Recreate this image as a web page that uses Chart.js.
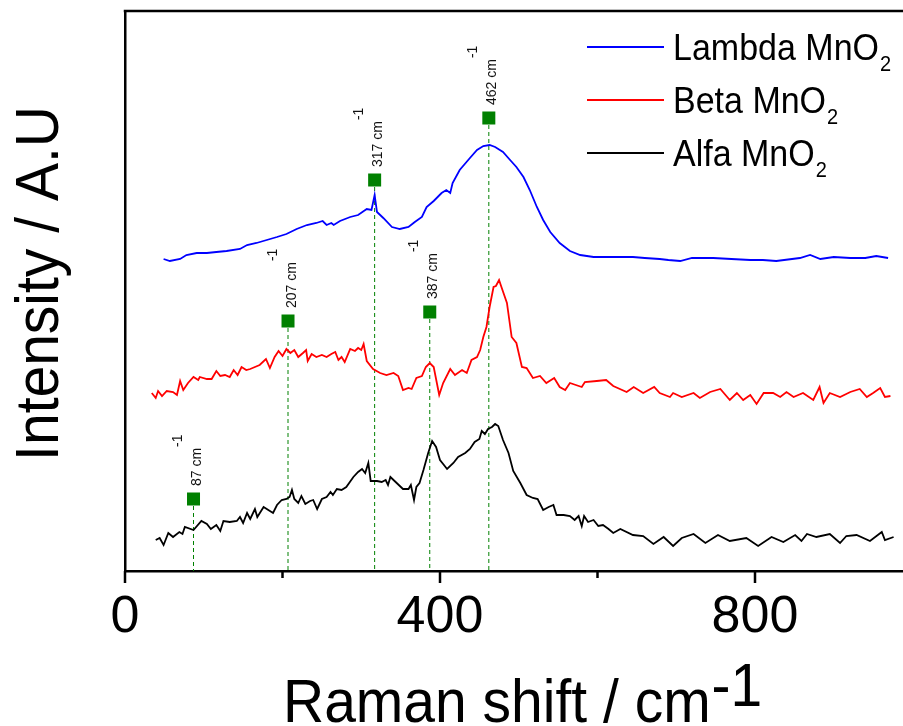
<!DOCTYPE html>
<html>
<head>
<meta charset="utf-8">
<script src="https://cdn.jsdelivr.net/npm/chart.js@4.4.1/dist/chart.umd.min.js"></script>
<style>
  html, body { margin: 0; padding: 0; background: #fff; overflow: hidden; width: 903px; height: 726px; }
  canvas { display: block; }
</style>
</head>
<body>
<canvas id="raman" width="930" height="726"></canvas>
<script>
// Raman spectra of three MnO2 polymorphs (shift in cm-1, intensity in arbitrary units, stacked)
const lambdaShift = [49, 57, 70, 78, 91, 104, 116, 129, 146, 155, 167, 180, 193, 205, 218, 231, 243, 251, 256, 262, 265, 273, 286, 296, 307, 313, 317, 320, 328, 339, 349, 360, 368, 377, 383, 392, 402, 408, 413, 416, 425, 438, 447, 455, 463, 470, 480, 489, 497, 506, 514, 523, 531, 540, 552, 565, 578, 595, 612, 629, 645, 660, 679, 690, 705, 720, 747, 770, 794, 810, 827, 857, 870, 883, 900, 921, 940, 954, 969];
const lambdaIntensity = [312, 310, 312, 316, 318, 318, 319, 320, 322, 326, 328, 331, 334, 337, 342, 346, 348, 350, 346, 348, 346, 350, 354, 356, 362, 361, 376, 359, 353, 344, 342, 344, 349, 354, 364, 370, 378, 381, 378, 388, 401, 413, 421, 425, 426, 424, 419, 411, 404, 394, 381, 364, 351, 339, 328, 320, 316, 314, 314, 314, 314, 313, 312, 311, 310, 313, 313, 312, 311, 311, 310, 313, 316, 312, 314, 313, 313, 315, 313];

const betaShift = [34, 39, 42, 47, 53, 61, 66, 70, 74, 80, 87, 93, 95, 104, 110, 116, 121, 127, 133, 138, 143, 148, 154, 159, 165, 171, 179, 184, 190, 195, 200, 205, 210, 215, 220, 226, 230, 232, 237, 243, 250, 256, 262, 267, 271, 275, 279, 286, 292, 296, 300, 303, 307, 315, 324, 332, 341, 347, 353, 360, 364, 370, 377, 382, 387, 392, 399, 404, 413, 419, 428, 434, 440, 447, 451, 455, 459, 463, 468, 471, 475, 478, 485, 491, 497, 504, 510, 518, 527, 535, 545, 552, 559, 565, 580, 584, 599, 611, 620, 637, 646, 658, 672, 679, 692, 696, 707, 722, 730, 743, 756, 768, 777, 785, 794, 802, 811, 823, 832, 840, 849, 861, 874, 882, 887, 895, 908, 921, 933, 942, 950, 959, 965, 972];
const betaIntensity = [178, 173, 180, 175, 180, 179, 176, 190, 181, 188, 194, 191, 194, 192, 192, 200, 195, 196, 194, 201, 196, 204, 201, 202, 204, 206, 212, 203, 214, 220, 215, 222, 218, 221, 214, 218, 221, 210, 217, 214, 216, 214, 217, 219, 211, 214, 209, 222, 220, 223, 221, 227, 210, 202, 198, 196, 198, 195, 181, 183, 182, 193, 195, 204, 208, 204, 176, 188, 202, 196, 201, 198, 211, 214, 221, 234, 244, 264, 284, 285, 291, 284, 268, 234, 228, 204, 203, 193, 195, 188, 193, 184, 181, 188, 184, 189, 190, 191, 185, 179, 184, 178, 184, 178, 174, 178, 174, 178, 173, 179, 182, 171, 178, 171, 176, 167, 178, 178, 174, 179, 174, 178, 171, 184, 168, 178, 174, 179, 182, 174, 178, 183, 174, 175];

const alfaShift = [39, 44, 49, 55, 61, 69, 73, 76, 87, 97, 104, 109, 116, 121, 125, 133, 142, 146, 150, 155, 159, 165, 168, 176, 182, 188, 193, 199, 205, 209, 212, 215, 220, 224, 229, 235, 239, 244, 250, 256, 261, 264, 269, 275, 281, 290, 296, 301, 305, 309, 312, 320, 326, 331, 334, 337, 345, 353, 360, 363, 367, 370, 374, 379, 385, 390, 395, 400, 405, 409, 417, 423, 432, 438, 444, 450, 453, 457, 461, 466, 470, 474, 480, 487, 493, 502, 510, 518, 524, 531, 538, 544, 548, 557, 565, 571, 576, 580, 583, 588, 595, 601, 607, 614, 620, 629, 645, 658, 671, 684, 696, 707, 722, 737, 753, 768, 789, 804, 821, 836, 851, 859, 866, 878, 895, 908, 916, 929, 946, 961, 965, 976];
const alfaIntensity = [31, 33, 26, 38, 34, 39, 37, 44, 41, 50, 47, 42, 46, 40, 50, 49, 50, 54, 48, 58, 52, 62, 54, 64, 61, 58, 66, 71, 72, 74, 81, 72, 68, 75, 67, 70, 71, 62, 72, 74, 79, 76, 82, 81, 84, 94, 99, 102, 98, 108, 90, 90, 89, 91, 86, 94, 88, 82, 82, 86, 71, 84, 88, 101, 118, 130, 124, 111, 106, 102, 108, 114, 118, 122, 129, 132, 140, 137, 142, 144, 147, 145, 131, 118, 100, 88, 76, 73, 72, 61, 64, 66, 56, 56, 55, 51, 55, 45, 55, 49, 51, 45, 46, 42, 38, 42, 36, 35, 27, 34, 25, 33, 37, 28, 36, 30, 33, 25, 34, 29, 36, 30, 37, 34, 37, 28, 35, 36, 30, 39, 31, 34];

const seriesNames = ['Lambda MnO2', 'Beta MnO2', 'Alfa MnO2'];
const seriesColors = ['#0000ff', '#ff0000', '#000000'];

// Assigned band positions (cm-1) and the height of their markers
const peakShifts = [87, 207, 317, 387, 462];
const peakMarkerLevels = [72, 250, 391, 259, 453];

const majorTicks = [0, 400, 800];
const minorTicks = [200, 600, 1000];
const xTitle = 'Raman shift / cm';
const xTitleSup = '-1';
const yTitle = 'Intensity / A.U';
const peakUnit = 'cm';
const peakUnitSup = '-1';

const FONT = '"Liberation Sans", Arial, sans-serif';

function toPoints(xs, ys) { return xs.map((v, i) => ({ x: v, y: ys[i] })); }

// Text with slightly taller glyphs, drawn in the current transform
function tallText(ctx, txt, x, y, size, sy) {
  ctx.save();
  ctx.font = size + 'px ' + FONT;
  const w = ctx.measureText(txt).width;
  ctx.translate(x, y);
  ctx.scale(1, sy);
  ctx.fillText(txt, 0, 0);
  ctx.restore();
  return w;
}

// Formula such as "MnO2": trailing digits set as subscript
function formulaText(ctx, name, x, y, size, subSize, subDrop, sy) {
  const m = name.match(/^(.*?)(\d+)$/);
  const base = m ? m[1] : name;
  const sub = m ? m[2] : '';
  const w = tallText(ctx, base, x, y, size, sy);
  if (sub) tallText(ctx, sub, x + w + 1, y + subDrop, subSize, sy);
}

const decor = {
  id: 'decor',
  beforeDatasetsDraw(chart) {
    const { ctx, chartArea: a, scales: { x, y } } = chart;
    ctx.save();
    ctx.strokeStyle = '#008000';
    ctx.lineWidth = 1;
    ctx.setLineDash([4, 3]);
    peakShifts.forEach((p, i) => {
      const px = x.getPixelForValue(p);
      ctx.beginPath();
      ctx.moveTo(px, y.getPixelForValue(peakMarkerLevels[i]));
      ctx.lineTo(px, a.bottom);
      ctx.stroke();
    });
    ctx.restore();
  },
  afterDatasetsDraw(chart) {
    const { ctx, chartArea: a, scales: { x, y } } = chart;
    ctx.save();
    ctx.fillStyle = '#000';
    ctx.strokeStyle = '#000';

    // frame: top and right edges
    ctx.lineWidth = 2.5;
    ctx.beginPath();
    ctx.moveTo(a.left - 1.25, a.top);
    ctx.lineTo(a.right, a.top);
    ctx.lineTo(a.right, a.bottom);
    ctx.stroke();

    // outward tick marks on the shift axis
    const tickMark = (v, len) => {
      const px = x.getPixelForValue(v);
      ctx.beginPath();
      ctx.moveTo(px, a.bottom);
      ctx.lineTo(px, a.bottom + len);
      ctx.stroke();
    };
    majorTicks.forEach(v => tickMark(v, 12));
    minorTicks.forEach(v => tickMark(v, 7));

    // peak markers and their labels
    peakShifts.forEach((p, i) => {
      const cx = x.getPixelForValue(p);
      const cy = y.getPixelForValue(peakMarkerLevels[i]);
      ctx.fillStyle = '#008000';
      ctx.fillRect(cx - 6.5, cy - 6.5, 13, 13);
      ctx.fillStyle = '#111';
      ctx.save();
      ctx.translate(cx + 7.5, cy - 13);
      ctx.rotate(-Math.PI / 2);
      const w = tallText(ctx, p + ' ' + peakUnit, 0, 0, 14, 1.08);
      tallText(ctx, peakUnitSup, w + 1, -19, 14, 1.08);
      ctx.restore();
    });

    // legend
    ctx.fillStyle = '#000';
    seriesNames.forEach((name, i) => {
      const ly = 47 + i * 53;
      ctx.strokeStyle = seriesColors[i];
      ctx.lineWidth = 2;
      ctx.beginPath();
      ctx.moveTo(587, ly);
      ctx.lineTo(664, ly);
      ctx.stroke();
      formulaText(ctx, name, 673, ly + 13, 34, 20, 11, 1.1);
    });

    // axis titles
    const wx = tallText(ctx, xTitle, 283, 722, 57, 1.07);
    tallText(ctx, xTitleSup, 283 + wx + 1, 706, 57, 1.07);

    ctx.save();
    ctx.translate(58, 283.5);
    ctx.rotate(-Math.PI / 2);
    ctx.textAlign = 'center';
    tallText(ctx, yTitle, 0, 0, 57, 1.06);
    ctx.restore();

    ctx.restore();
  }
};

new Chart(document.getElementById('raman'), {
  type: 'line',
  data: {
    datasets: [
      { label: seriesNames[0], data: toPoints(lambdaShift, lambdaIntensity), borderColor: seriesColors[0] },
      { label: seriesNames[1], data: toPoints(betaShift, betaIntensity), borderColor: seriesColors[1] },
      { label: seriesNames[2], data: toPoints(alfaShift, alfaIntensity), borderColor: seriesColors[2] }
    ]
  },
  options: {
    responsive: false,
    animation: false,
    devicePixelRatio: 1,
    layout: { padding: { top: 11, right: 17.5, left: 0, bottom: 0 } },
    elements: {
      line: { borderWidth: 1.8, tension: 0, fill: false },
      point: { radius: 0, hoverRadius: 0 }
    },
    plugins: { legend: { display: false }, tooltip: { enabled: false } },
    scales: {
      x: {
        type: 'linear',
        min: 0,
        max: 1000,
        afterFit(scale) { scale.height = 155; },
        afterBuildTicks(scale) {
          scale.ticks = majorTicks.concat(minorTicks).sort((p, q) => p - q).map(v => ({ value: v }));
        },
        ticks: {
          autoSkip: false,
          maxRotation: 0,
          padding: 15,
          color: '#000',
          font: { family: FONT, size: 52 },
          callback: v => (majorTicks.includes(v) ? String(v) : '')
        },
        grid: { display: false, drawTicks: false },
        border: { display: true, color: '#000', width: 2.5 }
      },
      y: {
        type: 'linear',
        min: 0,
        max: 560,
        afterFit(scale) { scale.width = 125; },
        ticks: { display: false },
        grid: { display: false, drawTicks: false },
        border: { display: true, color: '#000', width: 2.5 }
      }
    }
  },
  plugins: [decor]
});
</script>
</body>
</html>
